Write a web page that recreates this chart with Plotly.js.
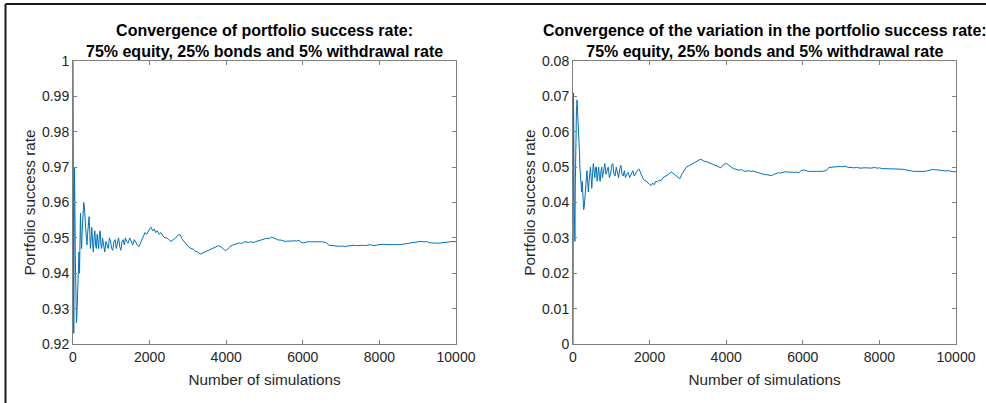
<!DOCTYPE html>
<html>
<head>
<meta charset="utf-8">
<script src="https://cdn.plot.ly/plotly-3.0.1.min.js"></script>
<style>
  html, body { margin: 0; padding: 0; background: #ffffff; }
  #chart { width: 986px; height: 403px; }
</style>
</head>
<body>
<div id="chart"></div>
<script>
// Number of simulations (x values shared by both panels)
const simulations = [
  1,6,12,20,30,40,50,60,75,90,105,120,140,155,170,180,195,210,225,240,260,280,295,310,330,350,365,380,400,420,440,455,475,490,510,530,550,570,590,610,630,650,670,690,710,730,750,770,
  800,830,860,890,920,950,980,1010,
  1040,1070,1100,1130,1160,1190,1220,1250,1280,1310,1340,1370,1400,
  1440,1480,1520,1560,1600,1640,1680,1720,1760,1800,1840,1880,1920,1960,2000,2040,2080,2120,2160,2200,
  2250,2300,2350,2400,2450,2500,
  2560,2620,2680,2740,2790,2840,
  2900,2960,3020,3080,3140,3200,3260,3320,3380,3440,
  3500,3560,3620,3680,3740,3800,3860,3920,3980,4040,
  4100,4160,4220,4280,4340,4400,4460,4520,4580,4640,
  4700,4760,4820,4880,4940,5000,5060,5120,5180,5240,
  5300,5360,5420,5480,5540,5600,5660,5720,5780,5840,
  5900,5960,6020,6080,6140,6200,6260,6320,6380,6440,
  6500,6560,6620,6680,6740,6800,6860,6920,6980,7040,
  7100,7160,7220,7280,7340,7400,7460,7520,7580,7640,
  7700,7760,7820,7880,7940,8000,8060,8120,8180,8240,
  8300,8360,8420,8480,8540,8600,8660,8720,8780,8840,
  8900,8960,9020,9080,9140,9200,9260,9320,9380,9440,
  9500,9560,9620,9680,9740,9800,9860,9920,10000
];

// Left panel: portfolio success rate
const successRate = [
  1.0,0.96,0.935,0.923,0.955,0.970,0.958,0.945,0.935,0.926,0.929,0.935,0.943,0.946,0.940,0.948,0.957,0.950,0.947,0.952,0.956,0.960,0.959,0.955,0.953,0.950,0.948,0.951,0.954,0.956,0.951,0.947,0.950,0.953,0.949,0.946,0.950,0.952,0.948,0.947,0.951,0.949,0.947,0.951,0.952,0.948,0.947,0.950,
  0.948,0.946,0.949,0.948,0.947,0.950,0.949,0.947,
  0.9465,0.949,0.9495,0.947,0.949,0.950,0.9475,0.9465,0.949,0.9495,0.948,0.950,0.949,
  0.9485,0.950,0.949,0.948,0.9495,0.9485,0.948,0.9475,0.9485,0.950,0.9505,0.9515,0.951,0.952,0.9525,0.953,0.952,0.9525,0.9515,0.952,
  0.951,0.9515,0.9505,0.950,0.950,0.9495,
  0.949,0.9495,0.950,0.9508,0.951,0.9498,
  0.949,0.948,0.9475,0.947,0.9468,0.9462,0.946,0.9454,0.9457,0.9462,
  0.9465,0.9468,0.947,0.9472,0.9475,0.9478,0.9475,0.9468,0.9464,0.9468,
  0.9476,0.9479,0.9482,0.9484,0.9486,0.9484,0.9488,0.9489,0.9487,0.9489,
  0.9487,0.9489,0.9491,0.9494,0.9496,0.9496,0.9499,0.9498,0.9502,0.950,
  0.9497,0.9494,0.9494,0.9492,0.949,0.9491,0.949,0.9491,0.9492,0.9491,
  0.9493,0.9487,0.9486,0.9488,0.9489,0.9489,0.949,0.9489,0.9489,0.949,
  0.9489,0.9488,0.9486,0.9479,0.9478,0.9479,0.9477,0.9476,0.9476,0.9477,
  0.9475,0.9477,0.9478,0.9478,0.9479,0.9478,0.9479,0.948,0.9479,0.9478,
  0.9479,0.9481,0.9479,0.9478,0.948,0.9481,0.9483,0.9482,0.9481,0.9482,
  0.9481,0.9481,0.9482,0.9481,0.9481,0.9482,0.9484,0.9486,0.9487,0.9488,
  0.9489,0.9488,0.9489,0.949,0.9489,0.949,0.9489,0.9486,0.9485,0.9484,
  0.9485,0.9485,0.9486,0.9487,0.9488,0.9487,0.9489,0.949,0.9489
];

// Right panel: variation in the portfolio success rate
const successVariation = [
  0.0,0.045,0.071,0.060,0.040,0.030,0.029,0.045,0.060,0.066,0.069,0.066,0.060,0.058,0.054,0.050,0.047,0.045,0.043,0.046,0.041,0.038,0.039,0.042,0.045,0.047,0.049,0.046,0.043,0.046,0.049,0.050,0.047,0.044,0.048,0.051,0.049,0.047,0.050,0.050,0.046,0.048,0.050,0.047,0.046,0.049,0.050,0.047,
  0.049,0.051,0.048,0.049,0.050,0.047,0.048,0.0505,
  0.051,0.048,0.0475,0.050,0.048,0.047,0.0495,0.0505,0.048,0.0475,0.049,0.047,0.048,
  0.0485,0.047,0.048,0.049,0.0475,0.0485,0.049,0.0495,0.0485,0.047,0.0465,0.0462,0.046,0.0455,0.0452,0.0448,0.0455,0.045,0.046,0.0458,
  0.0463,0.0462,0.047,0.0473,0.0476,0.048,
  0.0487,0.0482,0.0475,0.047,0.0467,0.048,
  0.049,0.050,0.0503,0.0507,0.051,0.0515,0.0518,0.0522,0.052,0.0516,
  0.0515,0.0512,0.051,0.0506,0.0503,0.050,0.0498,0.0506,0.0511,0.0508,
  0.0502,0.0498,0.0495,0.0494,0.0491,0.0493,0.0489,0.0488,0.049,0.0488,
  0.0489,0.0487,0.0486,0.0483,0.0481,0.048,0.0479,0.0478,0.0476,0.0479,
  0.0482,0.0484,0.0483,0.0485,0.0487,0.0486,0.0487,0.0486,0.0485,0.0486,
  0.0484,0.0491,0.0492,0.0489,0.0488,0.0488,0.0487,0.0488,0.0488,0.0487,
  0.0488,0.0489,0.0491,0.0499,0.05,0.0499,0.0501,0.0502,0.0502,0.0501,
  0.0503,0.05,0.0499,0.0498,0.0498,0.0499,0.0497,0.0497,0.0498,0.0499,
  0.0498,0.0497,0.0499,0.0499,0.0497,0.0498,0.0496,0.0496,0.0495,0.0494,
  0.0495,0.0495,0.0494,0.0495,0.0495,0.0494,0.0493,0.0491,0.049,0.0489,
  0.0488,0.0488,0.0488,0.0487,0.0489,0.0488,0.049,0.0492,0.0493,0.0493,
  0.0492,0.0491,0.049,0.049,0.0489,0.049,0.0488,0.0487,0.0487
];

// Tick values / labels
const xTicks = [0, 2000, 4000, 6000, 8000, 10000];
const xTickLabels = ["0", "2000", "4000", "6000", "8000", "10000"];
const yTicksLeft = [0.92, 0.93, 0.94, 0.95, 0.96, 0.97, 0.98, 0.99, 1];
const yTickLabelsLeft = ["0.92", "0.93", "0.94", "0.95", "0.96", "0.97", "0.98", "0.99", "1"];
const yTicksRight = [0, 0.01, 0.02, 0.03, 0.04, 0.05, 0.06, 0.07, 0.08];
const yTickLabelsRight = ["0", "0.01", "0.02", "0.03", "0.04", "0.05", "0.06", "0.07", "0.08"];

const titleLeft = "Convergence of portfolio success rate:<br>75% equity, 25% bonds and 5% withdrawal rate";
const titleRight = "Convergence of the variation in the portfolio success rate:<br>75% equity, 25% bonds and 5% withdrawal rate";
const xTitle = "Number of simulations";
const yTitle = "Portfolio success rate";

const FONT = "Liberation Sans, Arial, sans-serif";
const AXC = "#7f7f7f";
const TXT = "#262626";

const traces = [
  { x: simulations, y: successRate, type: "scatter", mode: "lines",
    line: { color: "#0072BD", width: 1 }, xaxis: "x", yaxis: "y", hoverinfo: "skip" },
  { x: simulations, y: successVariation, type: "scatter", mode: "lines",
    line: { color: "#0072BD", width: 1 }, xaxis: "x2", yaxis: "y2", hoverinfo: "skip" }
];

function xAxis(domain, anchor) {
  return {
    domain: domain, anchor: anchor, range: [0, 10000],
    tickmode: "array", tickvals: xTicks, ticktext: xTickLabels,
    ticks: "inside", ticklen: 4, tickwidth: 1, tickcolor: AXC,
    showline: true, linecolor: AXC, linewidth: 1, mirror: "ticks",
    showgrid: false, zeroline: false,
    tickfont: { family: FONT, size: 14, color: TXT },
    title: { text: xTitle, font: { family: FONT, size: 15.3, color: TXT }, standoff: 10 },
    automargin: false
  };
}
function yAxis(range, tv, tt, anchor) {
  return {
    anchor: anchor, range: range, domain: [0, 1],
    tickmode: "array", tickvals: tv, ticktext: tt,
    ticks: "inside", ticklen: 4, tickwidth: 1, tickcolor: AXC,
    showline: true, linecolor: AXC, linewidth: 1, mirror: "ticks",
    showgrid: false, zeroline: false,
    tickfont: { family: FONT, size: 14, color: TXT },
    title: { text: yTitle, font: { family: FONT, size: 15.3, color: TXT }, standoff: 2 },
    automargin: false
  };
}

const dL = [0, 383 / 883];
const dR = [500 / 883, 1];

const layout = {
  width: 986, height: 403,
  margin: { l: 73, r: 30, t: 61, b: 59 },
  paper_bgcolor: "#ffffff", plot_bgcolor: "#ffffff",
  showlegend: false,
  xaxis: xAxis(dL, "y"),
  yaxis: yAxis([0.92, 1], yTicksLeft, yTickLabelsLeft, "x"),
  xaxis2: xAxis(dR, "y2"),
  yaxis2: yAxis([0, 0.08], yTicksRight, yTickLabelsRight, "x2"),
  annotations: [
    { text: "<b>" + titleLeft + "</b>", xref: "paper", yref: "paper",
      x: (dL[0] + dL[1]) / 2, y: 0.995, xanchor: "center", yanchor: "bottom",
      showarrow: false, align: "center",
      font: { family: FONT, size: 16, color: "#000000" } },
    { text: "<b>" + titleRight + "</b>", xref: "paper", yref: "paper",
      x: (dR[0] + dR[1]) / 2, y: 0.995, xanchor: "center", yanchor: "bottom",
      showarrow: false, align: "center",
      font: { family: FONT, size: 16, color: "#000000" } }
  ],
  shapes: [
    { type: "line", xref: "paper", yref: "paper",
      x0: (5.5 - 73) / 883, x1: (5.5 - 73) / 883, y0: (344 - 410) / 283, y1: (344 - 4) / 283,
      line: { color: "#1a1a1a", width: 2 } },
    { type: "line", xref: "paper", yref: "paper",
      x0: (5.5 - 73) / 883, x1: (990 - 73) / 883, y0: (344 - 4) / 283, y1: (344 - 4) / 283,
      line: { color: "#1a1a1a", width: 2 } }
  ]
};

Plotly.newPlot("chart", traces, layout, { displayModeBar: false, staticPlot: true });
</script>
</body>
</html>
